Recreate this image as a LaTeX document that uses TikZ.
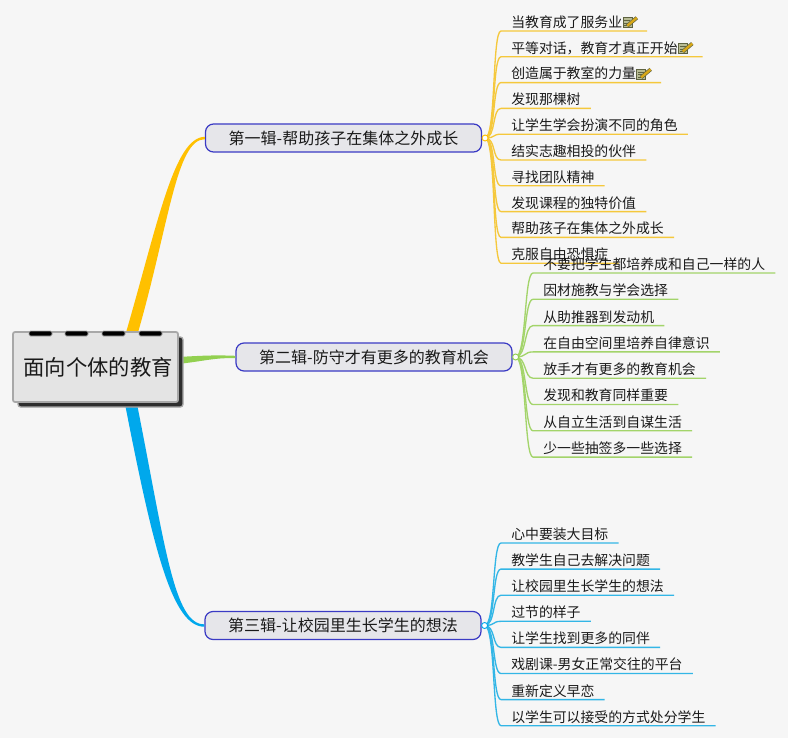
\documentclass[tikz,border=0pt]{standalone}
\usepackage{fontspec}
\newfontfamily\cjk{Noto Sans CJK SC}
\usetikzlibrary{calc}
\definecolor{bg}{HTML}{F6F6F6}
\definecolor{txt}{HTML}{1A1A1A}
\definecolor{yel}{HTML}{FFC000}
\definecolor{yelleaf}{HTML}{F5C83C}
\definecolor{grn}{HTML}{92D050}
\definecolor{grnleaf}{HTML}{A3D46A}
\definecolor{blu}{HTML}{00A8EC}
\definecolor{bluleaf}{HTML}{33B6E6}
\definecolor{bfill}{HTML}{E6E6EA}
\definecolor{bedge}{HTML}{3A3AC4}
\definecolor{rootface}{HTML}{E4E4E4}
\definecolor{rootrim}{HTML}{A8A8A8}
\definecolor{rootshadow}{HTML}{2E2E2E}
\definecolor{iconpad}{HTML}{B8BC94}
\definecolor{iconedge}{HTML}{5E6240}
\definecolor{pencilc}{HTML}{D8A818}
\tikzset{
  leaf/.style={anchor=south west, inner xsep=7.5pt, inner ysep=1pt,
    text height=8pt, text depth=1.5pt, text=txt,
    font={\cjk\fontsize{10.4pt}{12pt}\selectfont}},
  branch/.style={draw=bedge, fill=bfill, line width=0.9pt, rounded corners=6pt,
    minimum width=207pt, minimum height=21pt, inner sep=0pt, text=txt,
    font={\cjk\fontsize{12pt}{14pt}\selectfont}},
  rootbox/.style={draw=rootrim, fill=rootface, line width=1.3pt, rounded corners=1.5pt,
    minimum width=123.75pt, minimum height=52.5pt, inner sep=0pt, text=txt,
    font={\cjk\fontsize{16pt}{18pt}\selectfont}},
  leafY/.style={draw=yelleaf, line width=1pt},
  leafG/.style={draw=grnleaf, line width=1pt},
  leafB/.style={draw=bluleaf, line width=1pt},
  junc/.style={circle, inner sep=0pt, minimum size=4.5pt, fill=white, line width=0.7pt},
  noteicon/.pic={
    \fill[iconpad, draw=iconedge, line width=0.4pt] (-7,-4.5) rectangle (2,5.5);
    \draw[iconedge, line width=0.4pt] (-5.5,-2) -- (0.5,-2) (-5.5,0.8) -- (0.5,0.8) (-5.5,3.3) -- (-1.5,3.3);
    \draw[iconedge, line width=2.8pt] (-2.5,3.5) -- (7,-4.5);
    \draw[pencilc, line width=1.8pt] (-2.5,3.5) -- (7,-4.5);
  }
}
\begin{document}
\begin{tikzpicture}[x=0.75pt,y=-0.75pt]
\useasboundingbox (0,0) rectangle (788,738);
\fill[bg] (0,0) rectangle (788,738);

% branch nodes
\node[branch] (b1) at (343.5,138) {第一辑-帮助孩子在集体之外成长};
\node[branch] (b2) at (374,357) {第二辑-防守才有更多的教育机会};
\node[branch] (b3) at (343,625.5) {第三辑-让校园里生长学生的想法};

% tapered main branches
\fill[yel] (125,336) .. controls (158,223) and (174,137) .. ([yshift=0.9pt]b1.west)
  -- ([yshift=-0.9pt]b1.west) .. controls (176,139) and (169,226) .. (137,336) -- cycle;
\fill[blu] (125,404) .. controls (153,547) and (172,627) .. ([yshift=-0.9pt]b3.west)
  -- ([yshift=0.9pt]b3.west) .. controls (174,625) and (165,545) .. (137,404) -- cycle;
\fill[grn] (178,357) .. controls (205,355.5) and (215,355) .. ([yshift=0.9pt]b2.west)
  -- ([yshift=-0.9pt]b2.west) .. controls (215,357.5) and (205,361) .. (178,364) -- cycle;

% root
\fill[rootshadow, rounded corners=2pt] (18,337) rectangle (183,407);
\draw[rootrim, line width=1pt, rounded corners=2pt] (18,337) rectangle (183,407);
\node[rootbox] (root) at (95.5,367) {\hspace*{3.75pt}面向个体的教育};
\foreach \x in {29,65,102,139}
  \fill[black, draw=rootrim, line width=0.5pt, rounded corners=1pt] (\x,331) rectangle ++(23,5);

% junctions
\coordinate (j1) at ([xshift=2.25pt]b1.east);
\coordinate (j2) at ([xshift=2.25pt]b2.east);
\coordinate (j3) at ([xshift=2.25pt]b3.east);

% branch 1 leaves
\foreach \t [count=\i] in {当教育成了服务业\kern11pt, 平等对话，教育才真正开始\kern11pt, 创造属于教室的力量\kern11pt,
  发现那棵树, 让学生学会扮演不同的角色, 结实志趣相投的伙伴, 寻找团队精神,
  发现课程的独特价值, 帮助孩子在集体之外成长, 克服自由恐惧症} {
  \node[leaf] (a\i) at (501,{31+25.8*(\i-1)}) {\t};
  \draw[leafY] (j1) .. controls +(11,0) and +(-9,0) .. (a\i.south west) -- (a\i.south east);
}
\foreach \i in {1,2,3}
  \pic at ([xshift=-13pt,yshift=0.6pt]a\i.east) {noteicon};

% branch 2 leaves
\foreach \t [count=\i] in {不要把学生都培养成和自己一样的人, 因材施教与学会选择, 从助推器到发动机,
  在自由空间里培养自律意识, 放手才有更多的教育机会, 发现和教育同样重要,
  从自立生活到自谋生活, 少一些抽签多一些选择} {
  \node[leaf] (g\i) at (533,{273+26.3*(\i-1)}) {\t};
  \draw[leafG] (j2) .. controls +(11,0) and +(-9,0) .. (g\i.south west) -- (g\i.south east);
}

% branch 3 leaves
\foreach \t [count=\i] in {心中要装大目标, 教学生自己去解决问题, 让校园里生长学生的想法, 过节的样子,
  让学生找到更多的同伴, 戏剧课-男女正常交往的平台, 重新定义早恋, 以学生可以接受的方式处分学生} {
  \node[leaf] (c\i) at (501,{543+26.1*(\i-1)}) {\t};
  \draw[leafB] (j3) .. controls +(11,0) and +(-9,0) .. (c\i.south west) -- (c\i.south east);
}

\node[junc, draw=yel] at (j1) {};
\node[junc, draw=grn] at (j2) {};
\node[junc, draw=blu] at (j3) {};
\end{tikzpicture}
\end{document}
